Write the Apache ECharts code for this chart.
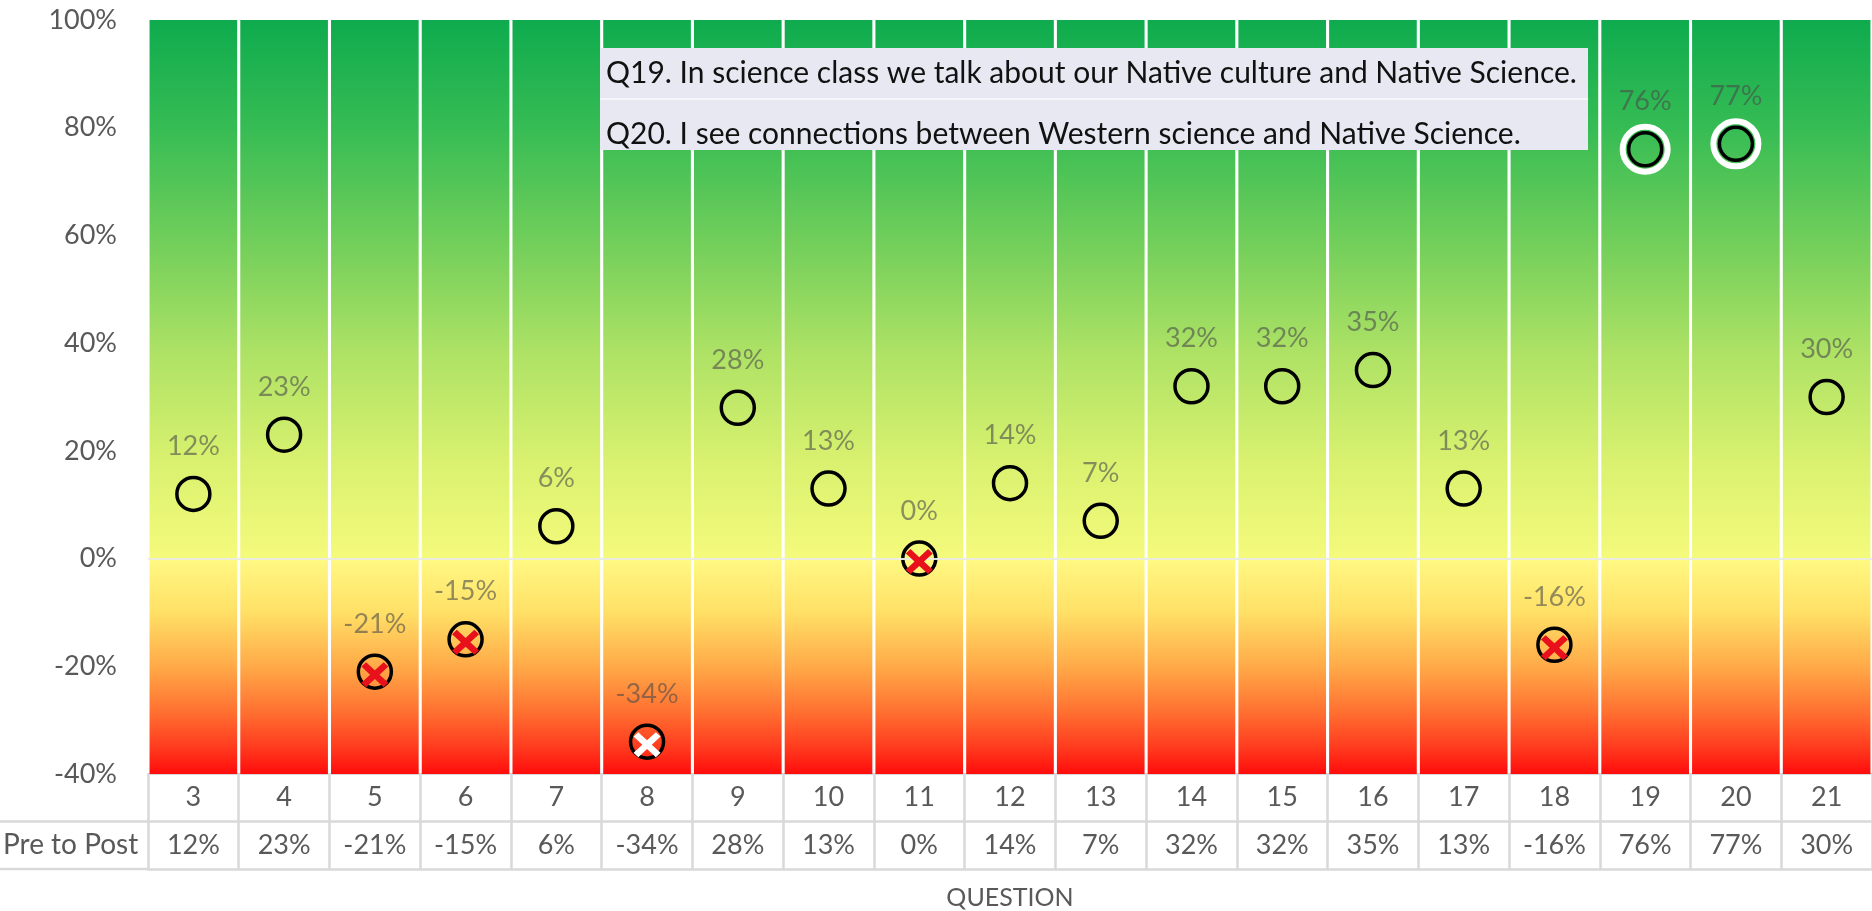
<!DOCTYPE html>
<html>
<head>
<meta charset="utf-8">
<title>Pre to Post change by question</title>
<script src="https://cdn.jsdelivr.net/npm/echarts@6/dist/echarts.min.js"></script>
<style>
  html, body { margin: 0; padding: 0; background: #fff; }
  #chart { width: 1872px; height: 911px; }
</style>
</head>
<body>
<div id="chart"></div>
<script>
// Survey questions and the pre-to-post change for each (percent)
const questions = ['3', '4', '5', '6', '7', '8', '9', '10', '11', '12', '13', '14', '15', '16', '17', '18', '19', '20', '21'];
const prePost = [12, 23, -21, -15, 6, -34, 28, 13, 0, 14, 7, 32, 32, 35, 13, -16, 76, 77, 30];

// Questions called out in the note box
const highlighted = ['19', '20'];
const notes = [
  'Q19. In science class we talk about our Native culture and Native Science.',
  'Q20. I see connections between Western science and Native Science.'
];

// Value axis range and tick step (percent)
const axisMin = -40;
const axisMax = 100;
const axisStep = 20;

const FONT = 'Lato, "Open Sans", sans-serif';
const TEXT = '#595959';
const RULE = '#D9D9D9';
const GRID = { left: 148, right: 0, top: 20, bottom: 137 };
const ROW = 47.5;               // height of one table row under the plot
const H = 911;
const tableTop = H - GRID.bottom;

// Thick "X" glyph used for questions that did not improve
const crossPath = 'path://M0,3.5 L3.5,0 L10,6.5 L16.5,0 L20,3.5 L13.5,10 L20,16.5 L16.5,20 L10,13.5 L3.5,20 L0,16.5 L6.5,10 Z';

const chart = echarts.init(document.getElementById('chart'), null, { renderer: 'canvas' });

const gainFill = new echarts.graphic.LinearGradient(0, 0, 0, 1, [
  { offset: 0, color: '#0EAB4E' },
  { offset: 0.2, color: '#36BC54' },
  { offset: 0.42, color: '#74CF5B' },
  { offset: 0.62, color: '#AEE265' },
  { offset: 0.82, color: '#D9F16F' },
  { offset: 1, color: '#F5FA7B' }
]);
const lossFill = new echarts.graphic.LinearGradient(0, 0, 0, 1, [
  { offset: 0, color: '#FFF983' },
  { offset: 0.25, color: '#FFE066' },
  { offset: 0.5, color: '#FFAA48' },
  { offset: 0.72, color: '#FF6E30' },
  { offset: 0.88, color: '#FF3A1E' },
  { offset: 1, color: '#FF0C0C' }
]);

const tableLabel = { color: TEXT, fontSize: 27, fontFamily: FONT, interval: 0 };

const option = {
  animation: false,
  backgroundColor: '#fff',
  grid: {
    left: GRID.left, right: GRID.right, top: GRID.top, bottom: GRID.bottom,
    containLabel: false,
    outerBoundsMode: 'none'
  },
  xAxis: [
    {
      type: 'category',
      data: questions,
      position: 'bottom',
      axisLine: { onZero: false, lineStyle: { color: RULE, width: 2 } },
      axisTick: { show: true, length: ROW * 2, lineStyle: { color: RULE, width: 2.5 } },
      axisLabel: Object.assign({ margin: 10 }, tableLabel),
      splitLine: { show: false }
    },
    {
      type: 'category',
      data: prePost.map(v => v + '%'),
      position: 'bottom',
      offset: ROW,
      axisLine: { onZero: false, lineStyle: { color: RULE, width: 2.5 } },
      axisTick: { show: false },
      axisLabel: Object.assign({ margin: 10 }, tableLabel)
    },
    {
      type: 'category',
      data: questions,
      position: 'bottom',
      offset: ROW * 2,
      axisLine: { onZero: false, lineStyle: { color: RULE, width: 2.5 } },
      axisTick: { show: false },
      axisLabel: { show: false },
      name: 'QUESTION',
      nameLocation: 'middle',
      nameGap: 16,
      nameTextStyle: { color: TEXT, fontSize: 25, fontFamily: FONT }
    }
  ],
  yAxis: {
    type: 'value',
    min: axisMin,
    max: axisMax,
    interval: axisStep,
    axisLine: { show: false },
    axisTick: { show: false },
    splitLine: { show: false },
    axisLabel: { formatter: '{value}%', color: TEXT, fontSize: 27, fontFamily: FONT, margin: 31 }
  },
  series: [
    {
      // green band above zero, one column per question
      type: 'bar',
      data: questions.map(() => axisMax),
      barGap: '-100%',
      barCategoryGap: '3.4%',
      silent: true,
      itemStyle: { color: gainFill },
      markLine: {
        silent: true,
        symbol: ['none', 'none'],
        label: { show: false },
        lineStyle: { color: 'rgba(235,235,225,0.95)', width: 2, type: 'solid' },
        data: [{ yAxis: 0 }]
      }
    },
    {
      // yellow-to-red band below zero
      type: 'bar',
      data: questions.map(() => axisMin),
      barGap: '-100%',
      barCategoryGap: '3.4%',
      silent: true,
      itemStyle: { color: lossFill }
    },
    {
      // white halo behind the highlighted questions
      type: 'scatter',
      data: questions.map((q, i) => highlighted.includes(q) ? prePost[i] : '-'),
      symbol: 'circle',
      symbolSize: 45,
      silent: true,
      itemStyle: { color: 'rgba(0,0,0,0)', borderColor: '#fff', borderWidth: 6, opacity: 1 },
      z: 3
    },
    {
      // one ring per question at its change value
      type: 'scatter',
      data: prePost,
      symbol: 'circle',
      symbolSize: 33,
      itemStyle: { color: 'rgba(0,0,0,0)', borderColor: '#000', borderWidth: 3.5, opacity: 1 },
      label: {
        show: true,
        position: 'top',
        distance: 16,
        formatter: p => p.value + '%',
        color: 'rgba(75,75,75,0.6)',
        fontSize: 27,
        fontFamily: FONT
      },
      z: 4
    },
    {
      // crosses on questions with no gain; white where the band is deep red
      type: 'scatter',
      data: prePost.map(v => v <= 0 ? { value: v, itemStyle: { color: v <= -30 ? '#FFFFFF' : '#E8101A' } } : '-'),
      symbol: crossPath,
      symbolSize: [27, 25],
      symbolOffset: [0, 3],
      silent: true,
      itemStyle: { opacity: 1 },
      z: 5
    }
  ],
  graphic: [
    // note box for Q19 / Q20
    { type: 'rect', shape: { x: 600, y: 48, width: 988, height: 102 }, style: { fill: '#E8E8F3' }, z: 10 },
    { type: 'line', shape: { x1: 600, y1: 99, x2: 1588, y2: 99 }, style: { stroke: '#F6F6FA', lineWidth: 2 }, z: 11 },
    { type: 'text', x: 606, y: 73, style: { text: notes[0], fill: '#111', font: '30px ' + FONT, verticalAlign: 'middle' }, z: 12 },
    { type: 'text', x: 606, y: 134, style: { text: notes[1], fill: '#111', font: '30px ' + FONT, verticalAlign: 'middle' }, z: 12 },
    // row header of the value table
    { type: 'text', x: 3, y: tableTop + ROW * 1.5, style: { text: 'Pre to Post', fill: TEXT, font: '28px ' + FONT, verticalAlign: 'middle' }, z: 10 },
    { type: 'line', shape: { x1: 0, y1: tableTop + ROW, x2: GRID.left, y2: tableTop + ROW }, style: { stroke: RULE, lineWidth: 2.5 }, z: 10 },
    { type: 'line', shape: { x1: 0, y1: tableTop + ROW * 2, x2: GRID.left, y2: tableTop + ROW * 2 }, style: { stroke: RULE, lineWidth: 2.5 }, z: 10 }
  ]
};

chart.setOption(option);
</script>
</body>
</html>
